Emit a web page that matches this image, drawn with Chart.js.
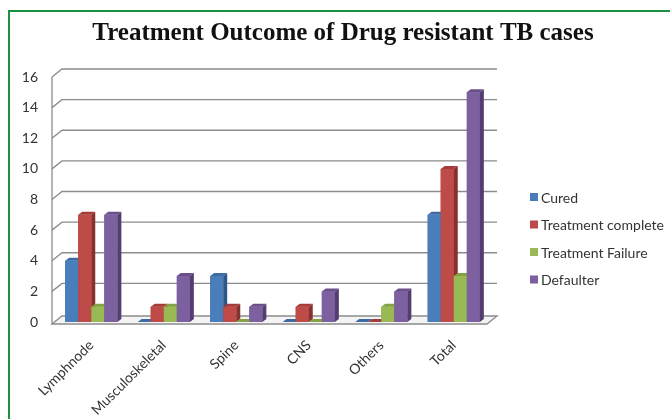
<!DOCTYPE html>
<html>
<head>
<meta charset="utf-8">
<script src="https://cdn.jsdelivr.net/npm/chart.js@4.4.1/dist/chart.umd.min.js"></script>
<style>
  html, body { margin: 0; padding: 0; background: #fff; }
  #wrap { position: relative; width: 670px; height: 419px; overflow: hidden; }
  #frame { position: absolute; left: 8px; top: 10px; width: 670px; height: 420px;
           border-left: 2px solid #1b9142; border-top: 2px solid #1b9142; }
  canvas { position: absolute; left: 0; top: 0; }
</style>
</head>
<body>
<div id="wrap">
  <div id="frame"></div>
  <canvas id="c" width="670" height="419"></canvas>
</div>
<script>
const categories = ['Lymphnode', 'Musculoskeletal', 'Spine', 'CNS', 'Others', 'Total'];
const cured = [4, 0, 3, 0, 0, 7];
const treatmentComplete = [7, 1, 1, 1, 0, 10];
const treatmentFailure = [1, 1, 0, 0, 1, 3];
const defaulter = [7, 3, 1, 2, 2, 15];
const yTicks = [0, 2, 4, 6, 8, 10, 12, 14, 16];

const seriesNames = ['Cured', 'Treatment complete', 'Treatment Failure', 'Defaulter'];
const seriesValues = [cured, treatmentComplete, treatmentFailure, defaulter];
const faces = [
  { front: '#4a7ebb', top: '#3d6ba3', side: '#2e5789' },
  { front: '#be4b48', top: '#a63c3a', side: '#87302e' },
  { front: '#98b954', top: '#82a244', side: '#688533' },
  { front: '#7d60a0', top: '#6a4f8b', side: '#543d70' }
];

const DX = 4, DY = 3;        // bar depth
const WX = 10, WY = 8;       // wall depth
const labelFont = 'Lato, "Liberation Sans", sans-serif';

function poly(ctx, pts, fill, stroke) {
  ctx.beginPath();
  ctx.moveTo(pts[0][0], pts[0][1]);
  for (let i = 1; i < pts.length; i++) ctx.lineTo(pts[i][0], pts[i][1]);
  ctx.closePath();
  if (fill) { ctx.fillStyle = fill; ctx.fill(); }
  if (stroke) { ctx.strokeStyle = stroke; ctx.stroke(); }
}

const threeD = {
  id: 'threeD',
  beforeDatasetsDraw(chart) {
    const ctx = chart.ctx;
    const ys = chart.scales.y;
    const a = chart.chartArea;
    const l = a.left - 3, r = a.right - 3;
    ctx.save();
    ctx.lineWidth = 1.3;
    ctx.strokeStyle = '#8c8c8c';
    yTicks.forEach(v => {
      if (v === 0) return;
      const y = ys.getPixelForValue(v);
      ctx.beginPath();
      ctx.moveTo(l, y);
      ctx.lineTo(l + WX, y - WY);
      ctx.lineTo(r + WX, y - WY);
      ctx.stroke();
    });
    const y0 = ys.getPixelForValue(0) + 2;
    poly(ctx, [[l, y0], [l + WX, y0 - WY], [r + WX, y0 - WY], [r, y0]], '#f4f4f4', '#8c8c8c');
    ctx.beginPath();
    ctx.moveTo(l, ys.getPixelForValue(yTicks[yTicks.length - 1]));
    ctx.lineTo(l, y0);
    ctx.stroke();
    ctx.restore();
  },
  afterDatasetsDraw(chart) {
    const ctx = chart.ctx;
    ctx.save();
    for (let i = 0; i < categories.length; i++) {
      for (let d = 0; d < chart.data.datasets.length; d++) {
        const el = chart.getDatasetMeta(d).data[i];
        const p = el.getProps(['x', 'y', 'base', 'width'], true);
        const l = p.x - p.width / 2, r = p.x + p.width / 2;
        const f = faces[d];
        ctx.fillStyle = f.front;
        ctx.fillRect(l, p.y, p.width, p.base - p.y);
        poly(ctx, [[l, p.y], [l + DX, p.y - DY], [r + DX, p.y - DY], [r, p.y]], f.top);
        poly(ctx, [[r, p.y], [r + DX, p.y - DY], [r + DX, p.base - DY], [r, p.base]], f.side);
      }
    }
    ctx.restore();
  },
  afterDraw(chart) {
    const ctx = chart.ctx;
    ctx.save();
    ctx.font = '14px ' + labelFont;
    ctx.textBaseline = 'middle';
    ctx.textAlign = 'left';
    chart.data.datasets.forEach((ds, i) => {
      const y = 197 + i * 27.5;
      ctx.fillStyle = faces[i].front;
      ctx.fillRect(530, y - 4, 8, 8);
      ctx.fillStyle = '#333';
      ctx.fillText(ds.label, 541, y + 1);
    });
    ctx.restore();
  }
};

new Chart(document.getElementById('c'), {
  type: 'bar',
  data: {
    labels: categories,
    datasets: seriesNames.map((name, i) => ({
      label: name,
      data: seriesValues[i],
      backgroundColor: faces[i].front,
      borderWidth: 0,
      categoryPercentage: 0.72,
      barPercentage: 1.0
    }))
  },
  options: {
    responsive: false,
    animation: false,
    layout: { padding: { left: 16, right: 0, top: 0, bottom: 0 } },
    plugins: {
      legend: { display: false },
      tooltip: { enabled: false },
      title: {
        display: true,
        text: 'Treatment Outcome of Drug resistant TB cases',
        color: '#111',
        font: { family: '"Liberation Serif", serif', weight: 'bold', size: 25, lineHeight: 1.2 },
        padding: { top: 19, bottom: 28 }
      }
    },
    scales: {
      x: {
        grid: { display: false },
        border: { display: false },
        ticks: {
          minRotation: 45, maxRotation: 45, padding: 7,
          color: '#333', font: { family: labelFont, size: 14 }
        },
        afterFit(s) { s.height = 97; }
      },
      y: {
        min: 0, max: 16,
        afterBuildTicks(s) { s.ticks = yTicks.map(v => ({ value: v })); },
        grid: { display: false, drawTicks: false },
        border: { display: false },
        ticks: { padding: 17, color: '#333', font: { family: labelFont, size: 14 } },
        afterFit(s) { s.width = 39; }
      },
      spacer: {
        position: 'right',
        grid: { display: false },
        border: { display: false },
        ticks: { display: false },
        afterFit(s) { s.width = 180; }
      }
    }
  },
  plugins: [threeD]
});
</script>
</body>
</html>
